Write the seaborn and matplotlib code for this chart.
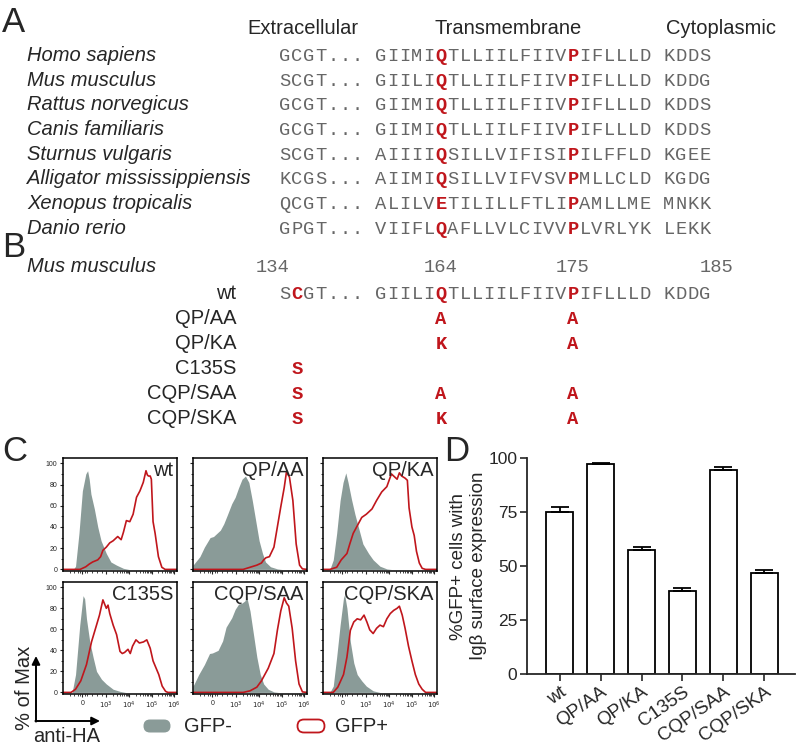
import numpy as np
import matplotlib
matplotlib.use('Agg')
import matplotlib.pyplot as plt
from matplotlib.patches import FancyBboxPatch
import seaborn as sns

# ---------------- data ----------------
# panel A: alignment
regions = ['Extracellular', 'Transmembrane', 'Cytoplasmic']
species = ['Homo sapiens', 'Mus musculus', 'Rattus norvegicus', 'Canis familiaris',
           'Sturnus vulgaris', 'Alligator mississippiensis', 'Xenopus tropicalis', 'Danio rerio']
extracellular = ['GCGT', 'SCGT', 'GCGT', 'GCGT', 'SCGT', 'KCGS', 'QCGT', 'GPGT']
transmembrane = ['GIIMIQTLLIILFIIVPIFLLLD', 'GIILIQTLLIILFIIVPIFLLLD', 'GIIMIQTLLIILFIIVPIFLLLD',
                 'GIIMIQTLLIILFIIVPIFLLLD', 'AIIIIQSILLVIFISIPILFFLD', 'AIIMIQSILLVIFVSVPMLLCLD',
                 'ALILVETILILLFTLIPAMLLME', 'VIIFLQAFLLVLCIVVPLVRLYK']
cytoplasmic = ['KDDS', 'KDDG', 'KDDS', 'KDDS', 'KGEE', 'KGDG', 'MNKK', 'LEKK']

# panel B: mouse mutants
mutants = ['wt', 'QP/AA', 'QP/KA', 'C135S', 'CQP/SAA', 'CQP/SKA']
mut_c135 = ['C', '', '', 'S', 'S', 'S']
mut_q164 = ['Q', 'A', 'K', '', 'A', 'K']
mut_p175 = ['P', 'A', 'A', '', 'A', 'A']
residue_numbers = ['134', '164', '175', '185']

# panel C: histograms (x in % of axis width, y in % of max)
wt_gfp_neg = [(0, 0), (9, 0), (11, 3), (14, 34), (17, 74), (20, 90), (21.6, 93), (23, 85), (24.5, 71),
              (27.5, 57), (30.5, 40), (33.4, 27), (38, 15), (42, 7), (47, 4), (53, 1), (58, 0), (100, 0)]
wt_gfp_pos = [(0, 0), (15, 0), (20, 2.5), (23, 5), (26, 7), (30.5, 9), (33, 12), (35, 18), (38, 21),
              (41, 25), (44, 27), (48, 31), (51, 28), (53, 35), (55.6, 46), (58.6, 45), (61.5, 52),
              (64.5, 68), (67.5, 74), (70.4, 82), (72.8, 93), (74, 89), (75, 88), (76.5, 88), (77.5, 85),
              (79, 45), (80.8, 34), (83.7, 12), (86.7, 2), (89.6, 0), (100, 0)]
qpaa_gfp_neg = [(0, 4), (6, 12), (10, 21), (15, 30), (18, 31), (21, 34), (24, 37), (27, 43), (30, 51),
                (34, 62), (37, 68), (40, 77), (43, 85), (46, 88), (49, 82), (52, 65), (55, 46), (58, 27),
                (61, 15), (63.6, 7), (68, 2.5), (74, 0.5), (78, 0), (100, 0)]
qpaa_gfp_pos = [(0, 0), (44, 0), (50, 2), (56, 4), (60, 6), (62, 9), (64, 11), (67, 12), (71, 21),
                (74, 40), (77, 59), (80, 77), (82, 92), (83.5, 89), (84.6, 87), (87.6, 65), (90.5, 24),
                (93.5, 4), (96, 0.5), (100, 0)]
qpka_gfp_neg = [(0, 0), (6, 0), (9, 9), (12, 34), (15, 65), (17.6, 82), (20, 91), (22, 82), (25, 66),
                (28, 52), (31, 40), (35, 24), (40, 15), (44, 9), (50, 3), (56, 0.5), (60, 0), (100, 0)]
qpka_gfp_pos = [(0, 0), (6, 0), (12, 2), (16, 9), (21, 15), (23.5, 24), (26.5, 34), (31, 43), (34, 49),
                (38, 52), (43, 57), (47, 65), (51.5, 73), (56, 78), (60, 90), (62, 88), (65, 85), (67, 91),
                (69, 88), (72, 86), (74, 84), (75.5, 58), (78, 40), (80, 32), (82, 17), (84.5, 6),
                (87, 1), (90, 0), (100, 0)]
c135s_gfp_neg = [(0, 0), (8, 0), (11, 17), (14.7, 64), (17.6, 92), (19, 89), (20.6, 70), (23.5, 48),
                 (26.5, 33), (29.4, 20), (33.8, 12.5), (38, 8), (44, 3), (50, 1), (55, 0), (100, 0)]
c135s_gfp_pos = [(0, 0), (7, 0), (11, 3), (15.6, 11), (20.6, 26.5), (25, 48), (29.4, 64), (32, 73.5),
                 (35, 88), (36.5, 84), (38, 80), (39.5, 83), (41, 75), (44, 64), (47, 55), (50, 39),
                 (52, 37), (54, 38), (57, 41), (59, 37), (61, 44), (64, 50), (67, 47), (70.6, 48),
                 (73.5, 50), (76.5, 42), (79, 30), (84, 17), (87, 6), (90, 1), (92, 0), (100, 0)]
cqpsaa_gfp_neg = [(0, 6), (1, 8), (5, 17), (10, 26.5), (14.5, 37), (17, 37.5), (22, 40), (26, 49),
                  (29, 62), (34, 71), (37, 79), (40, 84), (43, 85), (45.5, 87), (47, 91.5), (50, 77.5),
                  (53, 55.6), (56, 33.6), (59, 17), (62, 8), (66, 3), (71, 0.5), (75, 0), (100, 0)]
cqpsaa_gfp_pos = [(0, 0), (44, 0), (50, 1.5), (56, 5), (60, 11), (63, 17), (66, 23), (71, 37), (74, 59),
                  (77, 77.5), (80, 90), (82, 85), (84, 82), (87, 61), (90, 30), (93, 8), (96, 0.5), (100, 0)]
cqpska_gfp_neg = [(0, 0), (6, 0), (9, 6), (12, 33.6), (15, 64), (18, 90), (19, 93), (21, 80), (24, 48),
                  (27, 28), (30, 17), (34, 11), (38, 6), (44, 1.5), (50, 0), (100, 0)]
cqpska_gfp_pos = [(0, 0), (9, 0), (13, 5), (18, 17), (21, 33.6), (24, 59), (27, 67), (30, 70), (33, 69),
                  (36, 73.5), (38.5, 67), (41, 59.5), (44, 56), (47, 61), (50, 64), (53, 62.5), (56, 70),
                  (59, 75), (62, 78), (65, 80), (67, 82), (69.5, 73.5), (72, 61), (75, 44), (78, 30),
                  (81, 17), (84, 8), (87, 3), (90, 0), (100, 0)]
hist_ticklabels = ['0', '$10^3$', '$10^4$', '$10^5$', '$10^6$']

# panel D: surface expression
surface_pct = [75.0, 97.1, 57.6, 38.6, 94.6, 46.8]
surface_sem = [2.2, 0.4, 1.3, 1.0, 1.1, 1.5]

# ---------------- style ----------------
sns.set_theme(style='ticks')
plt.rcParams['font.family'] = ['Liberation Sans', 'DejaVu Sans']
SANS = 'Liberation Sans'
MONO = 'Liberation Mono'
RED = '#c0161c'
SEQ_GRAY = '#666666'
HIST_GRAY = '#8a9b98'
LAB_FS = 14.5
SEQ_FS = 13.5
LET_FS = 25

W, H = 796, 747
fig = plt.figure(figsize=(W / 100, H / 100), dpi=100)


def px_rect(x0, y0, x1, y1):
    return [x0 / W, 1 - y1 / H, (x1 - x0) / W, (y1 - y0) / H]


# overlay axes in pixel units for the text panels
bg = fig.add_axes([0, 0, 1, 1])
bg.set_xlim(0, W)
bg.set_ylim(H, 0)
bg.axis('off')

X0, CW = 279, 12.0      # left edge and width of one sequence column
NAME_X = 27
TM_START = 8            # column where the transmembrane stretch starts
BASE = 6                # baseline offset from row centre


def col_x(c):
    return X0 + (c + 0.5) * CW


def draw_chars(y, chars, red_cols):
    for j, ch in enumerate(chars):
        if ch == ' ':
            continue
        red = j in red_cols
        bg.text(col_x(j), y + BASE, ch, ha='center', va='baseline', family=MONO, fontsize=SEQ_FS,
                color=RED if red else SEQ_GRAY, fontweight='bold' if red else 'normal')


# panel letters
for letter, (lx, ly) in zip('ABCD', [(2, 6), (2, 231), (2, 435), (444, 435)]):
    bg.text(lx, ly, letter, fontsize=LET_FS, va='top', ha='left', family=SANS)

# ---- A ----
for name, cx in zip(regions, [303, 508, 721]):
    bg.text(cx, 28 + BASE, name, ha='center', va='baseline', fontsize=LAB_FS, family=SANS)

q_col = TM_START + 5
p_col = TM_START + 16
for i, sp in enumerate(species):
    y = 55 + 24.7 * i
    bg.text(NAME_X, y + BASE, sp, ha='left', va='baseline', fontsize=LAB_FS, style='italic', family=SANS)
    row = extracellular[i] + '... ' + transmembrane[i] + ' ' + cytoplasmic[i]
    draw_chars(y, row, {q_col, p_col})

# ---- B ----
yB = 266
bg.text(NAME_X, yB + BASE, 'Mus musculus', ha='left', va='baseline', fontsize=LAB_FS,
        style='italic', family=SANS)
for num, c in zip(residue_numbers, [-1, q_col, p_col, 36]):
    bg.text(col_x(c), yB + BASE, num, ha='center', va='baseline', family=MONO,
            fontsize=SEQ_FS, color=SEQ_GRAY)

wt_row = extracellular[1] + '... ' + transmembrane[1] + ' ' + cytoplasmic[1]
for i, m in enumerate(mutants):
    y = 293 + 25 * i
    bg.text(236, y + BASE, m, ha='right', va='baseline', fontsize=LAB_FS, family=SANS)
    if i == 0:
        draw_chars(y, wt_row, {1, q_col, p_col})
    else:
        chars = [' '] * len(wt_row)
        for c, aa in zip([1, q_col, p_col], [mut_c135[i], mut_q164[i], mut_p175[i]]):
            if aa:
                chars[c] = aa
        draw_chars(y, chars, {1, q_col, p_col})

# ---- C ----
hist_panels = [('wt', wt_gfp_neg, wt_gfp_pos), ('QP/AA', qpaa_gfp_neg, qpaa_gfp_pos),
               ('QP/KA', qpka_gfp_neg, qpka_gfp_pos), ('C135S', c135s_gfp_neg, c135s_gfp_pos),
               ('CQP/SAA', cqpsaa_gfp_neg, cqpsaa_gfp_pos), ('CQP/SKA', cqpska_gfp_neg, cqpska_gfp_pos)]
col_px = [(63, 177), (193, 307), (323, 437)]
row_px = [(458, 571), (582, 694)]
major_u = [17, 38, 58, 78, 97]
minor_u = [6, 10, 13, 15, 19, 21, 25, 30, 34]
for a, b in zip(major_u[1:-1], major_u[2:]):
    minor_u += list(a + np.log10(np.arange(2, 10)) * (b - a))

for k, (label, neg, pos) in enumerate(hist_panels):
    r, c = divmod(k, 3)
    ax = fig.add_axes(px_rect(col_px[c][0], row_px[r][0], col_px[c][1], row_px[r][1]))
    neg = np.array(neg)
    pos = np.array(pos)
    ax.fill_between(neg[:, 0], neg[:, 1], color=HIST_GRAY, lw=0)
    sns.lineplot(x=pos[:, 0], y=pos[:, 1], color=RED, lw=1.2, ax=ax, sort=False)
    ax.set_xlim(0, 100)
    ax.set_ylim(-1.5, 105)
    ax.set_xticks(major_u)
    ax.set_xticks(minor_u, minor=True)
    ax.set_yticks(range(0, 101, 20))
    ax.set_yticks(range(10, 101, 20), minor=True)
    ax.tick_params(which='major', length=2.5, width=0.8, pad=1.5, labelsize=5)
    ax.tick_params(which='minor', length=1.5, width=0.6)
    ax.set_xticklabels(hist_ticklabels if r == 1 else [])
    if c != 0:
        ax.set_yticklabels([])
    for s in ax.spines.values():
        s.set_linewidth(1.1)
        s.set_color('black')
    ax.text(0.97, 0.975, label, transform=ax.transAxes, ha='right', va='top', fontsize=LAB_FS, family=SANS)

# flow axis arrows and legend
bg.annotate('', xy=(36, 656), xytext=(36, 721.6),
            arrowprops=dict(arrowstyle='-|>', lw=1.4, color='black', mutation_scale=12, shrinkA=0, shrinkB=0))
bg.annotate('', xy=(100, 721), xytext=(35.4, 721),
            arrowprops=dict(arrowstyle='-|>', lw=1.4, color='black', mutation_scale=12, shrinkA=0, shrinkB=0))
bg.text(24, 688, '% of Max', rotation=90, ha='center', va='center', fontsize=LAB_FS, family=SANS)
bg.text(33, 736, 'anti-HA', ha='left', va='center', fontsize=LAB_FS, family=SANS)
bg.add_patch(FancyBboxPatch((146, 722), 22, 8, boxstyle='round,pad=2.5,rounding_size=6.5',
                            fc=HIST_GRAY, ec='none'))
bg.text(184, 727, 'GFP-', ha='left', va='center', fontsize=LAB_FS, family=SANS)
bg.add_patch(FancyBboxPatch((300, 722), 22, 8, boxstyle='round,pad=2.5,rounding_size=6.5',
                            fc='white', ec=RED, lw=1.3))
bg.text(335, 727, 'GFP+', ha='left', va='center', fontsize=LAB_FS, family=SANS)

# ---- D ----
axD = fig.add_axes(px_rect(527, 458, 795, 674))
sns.barplot(x=mutants, y=surface_pct, color='white', edgecolor='black', linewidth=1.3,
            width=0.66, ax=axD, errorbar=None)
axD.errorbar(range(len(mutants)), surface_pct, yerr=[np.zeros(len(mutants)), surface_sem],
             fmt='none', ecolor='black', elinewidth=1.3, capsize=6.5, capthick=1.3)
axD.set_xlim(-0.8, 5.75)
axD.set_ylim(0, 100)
axD.set_yticks([0, 25, 50, 75, 100])
axD.tick_params(length=5, width=1.2, labelsize=12.5, pad=2)
axD.tick_params(axis='x', labelsize=13.5)
axD.set_xticks(range(len(mutants)))
axD.set_xticklabels(mutants, rotation=35, ha='right', rotation_mode='anchor')
axD.set_ylabel('%GFP+ cells with\nIgβ surface expression', fontsize=13.5, labelpad=1, linespacing=1.2)
axD.set_xlabel('')
sns.despine(ax=axD)
for s in ['left', 'bottom']:
    axD.spines[s].set_linewidth(1.3)

fig.savefig('out.png', dpi=100)
